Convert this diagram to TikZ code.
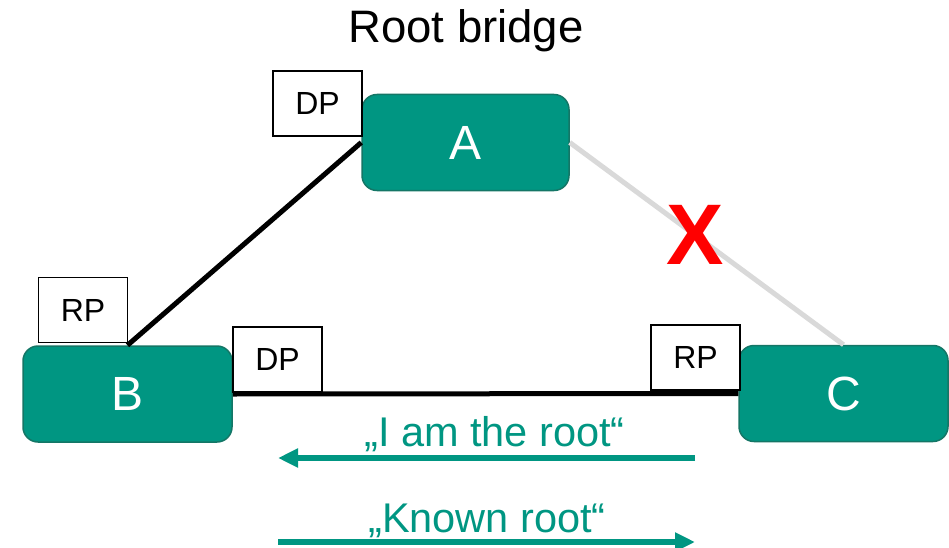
\documentclass[tikz,border=0pt]{standalone}
\usepackage{fontspec}
\setmainfont{Liberation Sans}
\usepackage{tikz}
\usetikzlibrary{arrows.meta,positioning}
\definecolor{SwitchTeal}{RGB}{0,150,130}
\definecolor{SwitchEdge}{RGB}{20,118,102}
\definecolor{BlockedGrey}{RGB}{217,217,217}

\begin{document}
\begin{tikzpicture}[x=1pt, y=-1pt,
        switch/.style={draw=SwitchEdge, fill=SwitchTeal, line width=1.5pt, rounded corners=15pt,
                    minimum width=207pt, minimum height=96pt, align=center, text=white,
                    font=\fontsize{48}{56}\selectfont},
    port/.style={draw, fill=white, line width=1.6pt, minimum width=89pt, minimum height=65pt,
                    inner sep=0pt, font=\fontsize{32}{38}\selectfont},
        link/.style={line width=5pt},
    msg/.style={draw=SwitchTeal, line width=5.5pt, -{Triangle[length=20pt,width=18pt]}},
        msgtext/.style={text=SwitchTeal, anchor=base, font=\fontsize{41.5}{48}\selectfont}
]
    \useasboundingbox (0,0) rectangle (949,548);

    \node[anchor=base, font=\fontsize{45.5}{52}\selectfont] (title) at (466,43) {Root bridge};

    % switches
    \node[switch] (a) at (465.5,142.5) {A};
    \node[switch, minimum width=209pt] (b) at (127.5,394) {B};
    \node[switch, minimum width=209pt] (c) at (843.5,393.5) {C};

    % port roles
    \node[port] (dpA) at (317.5,103.5) {DP};
    \node[port] (rpB) at (83,310) {RP};
    \node[port] (dpB) at (277.5,359.5) {DP};
    \node[port] (rpC) at (695.5,357.5) {RP};

    % links
    \draw[link] (b.north) -- (a.west);
    \draw[link] (b.east) -- (c.west);
    \draw[link, draw=BlockedGrey] (a.east) -- (c.north);
    \node[text=red, font=\fontsize{86}{90}\selectfont\bfseries, inner sep=0pt] (cut) at (695,234.5) {X};

    % BPDUs
    \node[msgtext] (iam) at (494.5,446) {„I am the root“};
    \node[msgtext] (known) at (487,532) {„Known root“};
    \coordinate (iamR) at (695,458);
    \coordinate (iamL) at (278,458);
    \coordinate (knownL) at (278,542);
    \coordinate (knownR) at (695,542);
    \draw[msg] (iamR) -- (iamL);
    \draw[msg] (knownL) -- (knownR);
\end{tikzpicture}
\end{document}
